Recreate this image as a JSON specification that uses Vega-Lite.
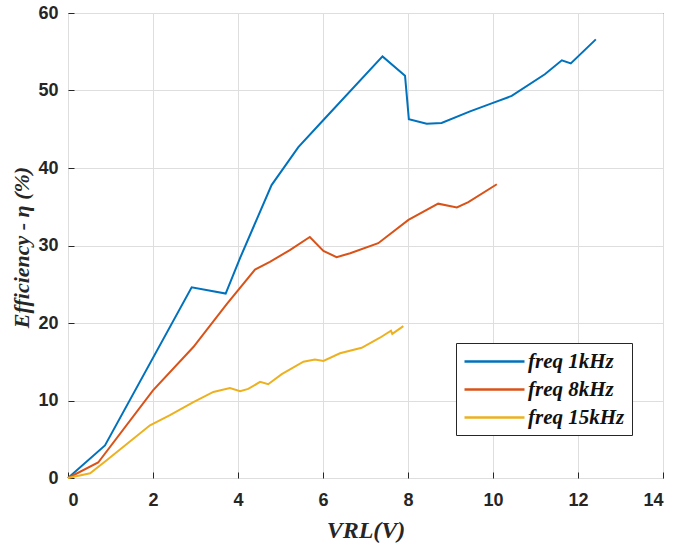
{
  "$schema": "https://vega.github.io/schema/vega-lite/v6.json",
  "width": 595,
  "height": 465,
  "autosize": "none",
  "padding": {"left": 68, "top": 13, "right": 14, "bottom": 67},
  "background": "white",
  "config": {
    "view": {"stroke": "#262626", "strokeWidth": 1},
    "axis": {
      "gridColor": "#dedede",
      "gridWidth": 1,
      "domain": false,
      "tickColor": "#262626",
      "tickSize": -6,
      "labelFont": "Liberation Sans",
      "labelFontWeight": "bold",
      "labelFontSize": 18,
      "labelColor": "#262626",
      "titleFont": "Liberation Serif",
      "titleFontStyle": "italic",
      "titleFontWeight": "bold",
      "titleColor": "#262626"
    }
  },
  "data": {
    "values": [
      {"s": "freq 1kHz", "x": 0, "y": 0},
      {"s": "freq 1kHz", "x": 0.87, "y": 4.2},
      {"s": "freq 1kHz", "x": 2.91, "y": 24.6},
      {"s": "freq 1kHz", "x": 3.71, "y": 23.8},
      {"s": "freq 1kHz", "x": 4.05, "y": 28.4},
      {"s": "freq 1kHz", "x": 4.79, "y": 37.8},
      {"s": "freq 1kHz", "x": 5.42, "y": 42.7},
      {"s": "freq 1kHz", "x": 6.01, "y": 46.2},
      {"s": "freq 1kHz", "x": 7.4, "y": 54.4},
      {"s": "freq 1kHz", "x": 7.93, "y": 51.9},
      {"s": "freq 1kHz", "x": 8.02, "y": 46.3},
      {"s": "freq 1kHz", "x": 8.44, "y": 45.7},
      {"s": "freq 1kHz", "x": 8.79, "y": 45.8},
      {"s": "freq 1kHz", "x": 9.46, "y": 47.3},
      {"s": "freq 1kHz", "x": 10.0, "y": 48.4},
      {"s": "freq 1kHz", "x": 10.44, "y": 49.3},
      {"s": "freq 1kHz", "x": 11.22, "y": 52.1},
      {"s": "freq 1kHz", "x": 11.62, "y": 53.9},
      {"s": "freq 1kHz", "x": 11.83, "y": 53.5},
      {"s": "freq 1kHz", "x": 12.42, "y": 56.6},
      {"s": "freq 8kHz", "x": 0, "y": 0},
      {"s": "freq 8kHz", "x": 0.71, "y": 2.0},
      {"s": "freq 8kHz", "x": 2.0, "y": 11.3},
      {"s": "freq 8kHz", "x": 2.95, "y": 16.9},
      {"s": "freq 8kHz", "x": 3.73, "y": 22.4},
      {"s": "freq 8kHz", "x": 4.4, "y": 26.9},
      {"s": "freq 8kHz", "x": 4.75, "y": 27.9},
      {"s": "freq 8kHz", "x": 5.22, "y": 29.4},
      {"s": "freq 8kHz", "x": 5.69, "y": 31.1},
      {"s": "freq 8kHz", "x": 6.01, "y": 29.3},
      {"s": "freq 8kHz", "x": 6.32, "y": 28.5},
      {"s": "freq 8kHz", "x": 6.64, "y": 29.0},
      {"s": "freq 8kHz", "x": 7.3, "y": 30.3},
      {"s": "freq 8kHz", "x": 8.01, "y": 33.3},
      {"s": "freq 8kHz", "x": 8.71, "y": 35.4},
      {"s": "freq 8kHz", "x": 9.15, "y": 34.9},
      {"s": "freq 8kHz", "x": 9.42, "y": 35.6},
      {"s": "freq 8kHz", "x": 10.09, "y": 37.9},
      {"s": "freq 15kHz", "x": 0, "y": 0},
      {"s": "freq 15kHz", "x": 0.52, "y": 0.6},
      {"s": "freq 15kHz", "x": 0.91, "y": 2.3},
      {"s": "freq 15kHz", "x": 1.93, "y": 6.8},
      {"s": "freq 15kHz", "x": 2.4, "y": 8.1},
      {"s": "freq 15kHz", "x": 2.95, "y": 9.8},
      {"s": "freq 15kHz", "x": 3.42, "y": 11.1},
      {"s": "freq 15kHz", "x": 3.81, "y": 11.6},
      {"s": "freq 15kHz", "x": 4.05, "y": 11.2},
      {"s": "freq 15kHz", "x": 4.24, "y": 11.5},
      {"s": "freq 15kHz", "x": 4.52, "y": 12.4},
      {"s": "freq 15kHz", "x": 4.71, "y": 12.1},
      {"s": "freq 15kHz", "x": 5.03, "y": 13.4},
      {"s": "freq 15kHz", "x": 5.54, "y": 15.0},
      {"s": "freq 15kHz", "x": 5.81, "y": 15.3},
      {"s": "freq 15kHz", "x": 6.01, "y": 15.1},
      {"s": "freq 15kHz", "x": 6.4, "y": 16.1},
      {"s": "freq 15kHz", "x": 6.91, "y": 16.8},
      {"s": "freq 15kHz", "x": 7.34, "y": 18.1},
      {"s": "freq 15kHz", "x": 7.6, "y": 19.0},
      {"s": "freq 15kHz", "x": 7.63, "y": 18.6},
      {"s": "freq 15kHz", "x": 7.89, "y": 19.6}
    ]
  },
  "mark": {"type": "line", "strokeWidth": 2},
  "encoding": {
    "x": {"field": "x", "type": "quantitative", "scale": {"domain": [0, 14], "nice": false},
          "axis": {"orient": "bottom", "grid": true, "title": "VRL(V)", "titleFontSize": 24, "values": [0,2,4,6,8,10,12,14], "labelPadding": 19, "titleX": 297.5, "titleY": 52, "titleBaseline": "middle", "titleAnchor": "middle"}},
    "y": {"field": "y", "type": "quantitative", "scale": {"domain": [0, 60], "nice": false},
          "axis": {"orient": "left", "grid": true, "title": "Efficiency - η (%)", "titleFontSize": 22, "values": [0,10,20,30,40,50,60], "labelPadding": 16, "titleX": -47, "titleY": 234, "titleBaseline": "middle", "titleAnchor": "middle", "titleAngle": 270}},
    "color": {
      "field": "s", "type": "nominal",
      "scale": {"domain": ["freq 1kHz", "freq 8kHz", "freq 15kHz"], "range": ["#0072BD", "#D95319", "#EDB120"]},
      "legend": {
        "orient": "none", "legendX": 388, "legendY": 330, "title": null,
        "symbolType": "M-1,0H5", "symbolSize": 400, "symbolStrokeWidth": 2.5, "symbolFillColor": "transparent",
        "labelFont": "Liberation Serif", "labelFontStyle": "italic", "labelFontWeight": "bold", "labelFontSize": 21, "labelColor": "#111",
        "strokeColor": "#262626", "fillColor": "white", "padding": 7, "rowPadding": 6, "labelOffset": 42, "cornerRadius": 0
      }
    }
  }
}
